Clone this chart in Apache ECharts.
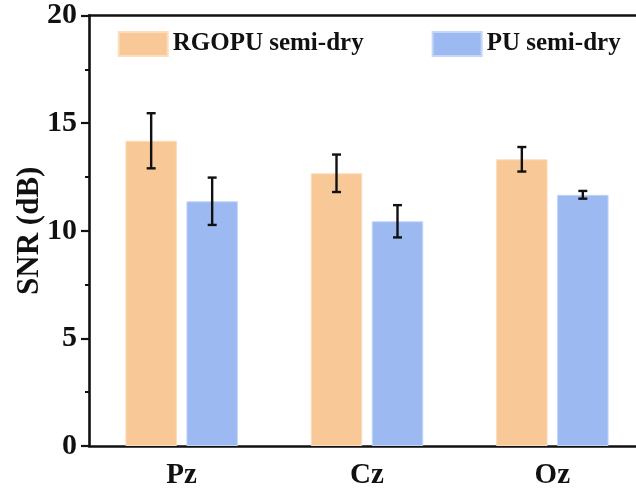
<!DOCTYPE html>
<html>
<head>
<meta charset="utf-8">
<script src="https://cdn.jsdelivr.net/npm/echarts@6/dist/echarts.min.js"></script>
<style>html,body{margin:0;padding:0;background:#fff;}#c{width:636px;height:491px;}</style>
</head>
<body>
<div id="c"></div>
<script>
var categories = ['Pz', 'Cz', 'Oz'];
var seriesNames = ['RGOPU semi-dry', 'PU semi-dry'];
var rgopuValues = [14.18, 12.67, 13.32];
var rgopuErrors = [1.28, 0.87, 0.57];
var puValues = [11.37, 10.44, 11.67];
var puErrors = [1.10, 0.75, 0.18];
var yTicks = [0, 5, 10, 15, 20];

var FONT = "'Liberation Serif', 'Times New Roman', serif";
var BAR_W = 51.5, BAR_GAP = 9.5;
var colors = ['#F9C897', '#9CBAF1'];

function errData(vals, errs) {
  return vals.map(function (v, i) { return [i, v - errs[i], v + errs[i]]; });
}
function errSeries(vals, errs, offset) {
  return {
    type: 'custom',
    data: errData(vals, errs),
    z: 10,
    silent: true,
    renderItem: function (params, api) {
      var lo = api.coord([api.value(0), api.value(1)]);
      var hi = api.coord([api.value(0), api.value(2)]);
      var x = lo[0] + offset;
      var hw = 4.5;
      var st = { stroke: '#111', lineWidth: 2.4 };
      return {
        type: 'group',
        children: [
          { type: 'line', shape: { x1: x, y1: lo[1], x2: x, y2: hi[1] }, style: st },
          { type: 'line', shape: { x1: x - hw, y1: lo[1], x2: x + hw, y2: lo[1] }, style: st },
          { type: 'line', shape: { x1: x - hw, y1: hi[1], x2: x + hw, y2: hi[1] }, style: st }
        ]
      };
    }
  };
}

var chart = echarts.init(document.getElementById('c'));
var off = (BAR_W + BAR_GAP) / 2;
chart.setOption({
  animation: false,
  grid: { left: 89, top: 15.5, width: 556, height: 430.5, containLabel: false, outerBoundsMode: 'none' },
  legend: {
    left: 117.7, top: 31, padding: 0,
    itemWidth: 49, itemHeight: 24, itemGap: 68,
    icon: 'rect',
    data: seriesNames,
    textStyle: { fontFamily: FONT, fontWeight: 'bold', fontSize: 25, color: '#111' }
  },
  xAxis: [{
    type: 'category', data: categories, position: 'bottom',
    axisLine: { lineStyle: { color: '#111', width: 2.6 } },
    axisTick: { show: false },
    axisLabel: { fontFamily: FONT, fontWeight: 'bold', fontSize: 29, color: '#111', margin: 15 }
  }, {
    type: 'category', data: categories, position: 'top',
    axisLine: { lineStyle: { color: '#111', width: 2.6 } },
    axisTick: { show: false }, axisLabel: { show: false }
  }],
  yAxis: {
    type: 'value', min: yTicks[0], max: yTicks[yTicks.length - 1], interval: 5,
    name: 'SNR (dB)', nameLocation: 'middle', nameGap: 44, nameMoveOverlap: false,
    nameTextStyle: { fontFamily: FONT, fontWeight: 'bold', fontSize: 31, color: '#111' },
    axisLine: { show: true, lineStyle: { color: '#111', width: 2.6 } },
    axisTick: { show: true, inside: false, length: 8, lineStyle: { color: '#111', width: 2.2 } },
    minorTick: { show: true, splitNumber: 2, length: 4, lineStyle: { color: '#111', width: 2 } },
    splitLine: { show: false },
    axisLabel: { fontFamily: FONT, fontWeight: 'bold', fontSize: 30, color: '#111', margin: 12 }
  },
  series: [
    { name: seriesNames[0], type: 'bar', data: rgopuValues, barWidth: BAR_W, barGap: (BAR_GAP / BAR_W * 100) + '%',
      itemStyle: { color: colors[0], borderColor: '#FCDDBE', borderWidth: 1 } },
    { name: seriesNames[1], type: 'bar', data: puValues, barWidth: BAR_W,
      itemStyle: { color: colors[1], borderColor: '#C4D6F7', borderWidth: 1 } },
    errSeries(rgopuValues, rgopuErrors, -off),
    errSeries(puValues, puErrors, off)
  ]
});
</script>
</body>
</html>
